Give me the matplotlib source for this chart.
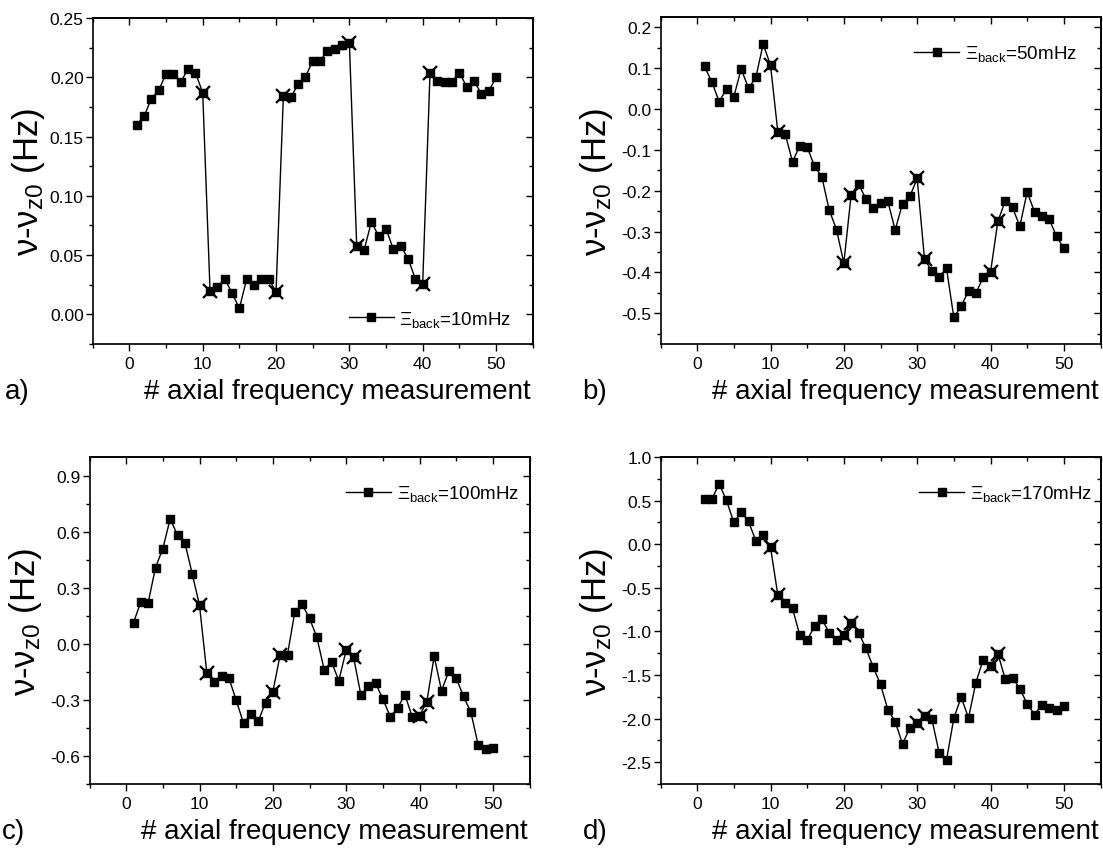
import matplotlib
matplotlib.use("Agg")
import matplotlib.pyplot as plt
from matplotlib.ticker import MultipleLocator, FormatStrFormatter

plt.rcParams['font.family'] = ['Liberation Sans', 'DejaVu Sans']
plt.rcParams['mathtext.fontset'] = 'custom'
plt.rcParams['mathtext.rm'] = 'Liberation Sans'
plt.rcParams['mathtext.it'] = 'Liberation Sans:italic'
plt.rcParams['mathtext.bf'] = 'Liberation Sans:bold'
plt.rcParams['axes.unicode_minus'] = False

# ---------------- data ----------------
measurement = list(range(1, 51))
switch_points = [10, 11, 20, 21, 30, 31, 40, 41]

shift_10mHz = [0.160, 0.167, 0.182, 0.189, 0.203, 0.203, 0.196, 0.207, 0.204, 0.187,
               0.020, 0.023, 0.030, 0.018, 0.005, 0.030, 0.025, 0.030, 0.030, 0.019,
               0.184, 0.183, 0.194, 0.200, 0.214, 0.214, 0.222, 0.224, 0.227, 0.229,
               0.058, 0.054, 0.078, 0.066, 0.072, 0.055, 0.058, 0.047, 0.030, 0.026,
               0.204, 0.197, 0.196, 0.196, 0.204, 0.192, 0.197, 0.186, 0.188, 0.200]

shift_50mHz = [0.104, 0.066, 0.018, 0.049, 0.030, 0.098, 0.051, 0.077, 0.159, 0.107,
               -0.056, -0.061, -0.129, -0.090, -0.093, -0.140, -0.166, -0.247, -0.295, -0.377,
               -0.210, -0.183, -0.220, -0.242, -0.230, -0.226, -0.296, -0.232, -0.214, -0.170,
               -0.367, -0.397, -0.410, -0.390, -0.510, -0.483, -0.445, -0.451, -0.412, -0.400,
               -0.275, -0.226, -0.241, -0.287, -0.203, -0.252, -0.262, -0.270, -0.311, -0.341]

shift_100mHz = [0.113, 0.225, 0.220, 0.408, 0.510, 0.668, 0.583, 0.542, 0.376, 0.206,
                -0.156, -0.204, -0.170, -0.182, -0.301, -0.425, -0.376, -0.415, -0.314, -0.258,
                -0.058, -0.058, 0.172, 0.211, 0.137, 0.036, -0.138, -0.097, -0.197, -0.034,
                -0.070, -0.272, -0.228, -0.210, -0.294, -0.389, -0.344, -0.272, -0.389, -0.385,
                -0.309, -0.067, -0.250, -0.147, -0.182, -0.281, -0.365, -0.541, -0.562, -0.559]

shift_170mHz = [0.518, 0.518, 0.691, 0.503, 0.249, 0.368, 0.261, 0.038, 0.107, -0.035,
                -0.583, -0.679, -0.737, -1.044, -1.101, -0.940, -0.860, -1.013, -1.101, -1.044,
                -0.898, -1.013, -1.190, -1.408, -1.608, -1.896, -2.034, -2.290, -2.110, -2.053,
                -1.965, -2.003, -2.395, -2.475, -1.995, -1.754, -1.992, -1.589, -1.324, -1.397,
                -1.255, -1.543, -1.531, -1.658, -1.830, -1.953, -1.842, -1.876, -1.896, -1.850]

legend_labels = ['10mHz', '50mHz', '100mHz', '170mHz']
panel_letters = ['a)', 'b)', 'c)', 'd)']
x_label = '# axial frequency measurement'
y_label = 'ν-ν$_{\\mathrm{z0}}$ (Hz)'

# ---------------- layout ----------------
W, H = 1103, 853
fig = plt.figure(figsize=(W / 100, H / 100), dpi=100)

def px_axes(left, top, width, height):
    return fig.add_axes([left / W, 1 - (top + height) / H, width / W, height / H])

panels = [
    dict(rect=(92.7, 19, 440, 326), data=shift_10mHz, ylim=(-0.025, 0.25), major=0.05, minor=0.025,
         fmt='%.2f', loc='lower right', anchor=(0.985, 0.0)),
    dict(rect=(660.5, 18, 440, 327), data=shift_50mHz, ylim=(-0.575, 0.225), major=0.1, minor=0.05,
         fmt='%.1f', loc='upper right', anchor=(0.98, 0.965)),
    dict(rect=(89.5, 458, 440, 327), data=shift_100mHz, ylim=(-0.75, 1.0), major=0.3, minor=0.15,
         fmt='%.1f', loc='upper right', anchor=(1.01, 0.965)),
    dict(rect=(660.5, 458, 440, 327), data=shift_170mHz, ylim=(-2.75, 1.0), major=0.5, minor=0.25,
         fmt='%.1f', loc='upper right', anchor=(1.015, 0.965)),
]

for i, p in enumerate(panels):
    ax = px_axes(*p['rect'])
    y = p['data']
    ax.plot(measurement, y, color='black', lw=1.0, marker='s', ms=5.8,
            mfc='black', mec='black', label='Ξ$_{\\mathrm{back}}$=' + legend_labels[i], zorder=3)
    sx = [m for m in measurement if m in switch_points]
    sy = [y[measurement.index(m)] for m in sx]
    ax.plot(sx, sy, ls='none', marker='x', ms=10, mew=1.6, color='black', zorder=4)

    ax.set_xlim(-5, 55)
    ax.set_ylim(*p['ylim'])
    ax.xaxis.set_major_locator(MultipleLocator(10))
    ax.xaxis.set_minor_locator(MultipleLocator(5))
    ax.yaxis.set_major_locator(MultipleLocator(p['major']))
    ax.yaxis.set_minor_locator(MultipleLocator(p['minor']))
    ax.yaxis.set_major_formatter(FormatStrFormatter(p['fmt']))
    ax.tick_params(which='both', direction='out', top=False, right=False,
                   labelsize=12.5, width=1.0)
    ax.tick_params(axis='x', pad=4)
    ax.tick_params(axis='y', pad=1.5)
    ax.tick_params(which='major', length=5)
    ax.tick_params(which='minor', length=3)
    for s in ax.spines.values():
        s.set_linewidth(1.2)

    secx = ax.secondary_xaxis('top')
    secx.xaxis.set_major_locator(MultipleLocator(10))
    secx.xaxis.set_minor_locator(MultipleLocator(5))
    secx.tick_params(which='both', direction='in', labeltop=False, width=1.0)
    secx.tick_params(which='major', length=5)
    secx.tick_params(which='minor', length=3)
    secx.spines['top'].set_linewidth(1.2)
    secy = ax.secondary_yaxis('right')
    secy.yaxis.set_major_locator(MultipleLocator(p['major']))
    secy.yaxis.set_minor_locator(MultipleLocator(p['minor']))
    secy.tick_params(which='both', direction='in', labelright=False, width=1.0)
    secy.tick_params(which='major', length=5)
    secy.tick_params(which='minor', length=3)
    secy.spines['right'].set_linewidth(1.2)

    ax.set_xlabel(x_label, fontsize=20, ha='right', va='center')
    ax.xaxis.set_label_coords(0.995, -0.145)
    ax.set_ylabel(y_label, fontsize=25, va='center')
    ax.yaxis.set_label_coords(-0.145, 0.5)

    ax.legend(loc=p['loc'], bbox_to_anchor=p['anchor'], frameon=False, fontsize=13.5,
              handlelength=2.4, handletextpad=0.3, borderaxespad=0.4)

    left, top, wd, ht = p['rect']
    fig.text((left - 88) / W if i % 2 == 0 else (left - 78) / W,
             1 - (top + ht + 47) / H, panel_letters[i], fontsize=20, va='center', ha='left')

fig.savefig('out.png', dpi=100)
